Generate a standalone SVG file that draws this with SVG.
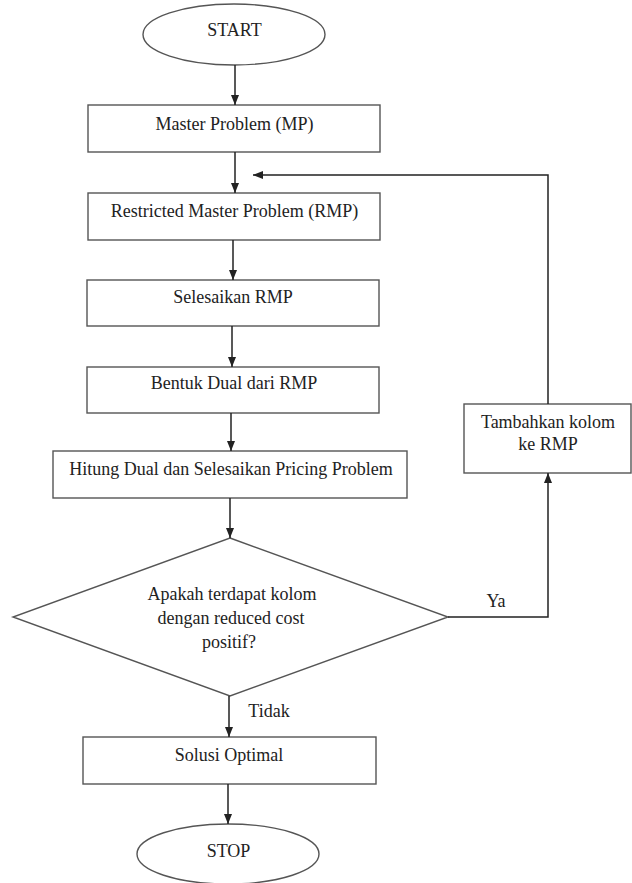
<svg xmlns="http://www.w3.org/2000/svg" width="632" height="883" viewBox="0 0 632 883">
<style>
.shape{fill:#fff;stroke:#555;stroke-width:1.4}
.conn{fill:none;stroke:#222;stroke-width:1.5}
text{font-family:"Liberation Serif","Times New Roman",serif;font-size:18px;fill:#222;text-anchor:middle}
</style>
<defs>
<marker id="ah" markerWidth="10" markerHeight="10" refX="10" refY="5" orient="auto" markerUnits="userSpaceOnUse">
<path d="M0,1 L10,5 L0,9 Z" fill="#222"/>
</marker>
</defs>
<rect width="632" height="883" fill="#fff"/>
<g id="start"><ellipse class="shape" cx="234" cy="34.5" rx="91" ry="30.5"/><text x="234.5" y="36">START</text></g>
<g id="mp"><rect class="shape" x="88" y="105" width="292" height="47"/><text x="234.5" y="130">Master Problem (MP)</text></g>
<g id="rmp"><rect class="shape" x="88" y="193" width="292" height="47"/><text x="234.5" y="217">Restricted Master Problem (RMP)</text></g>
<g id="selesaikan"><rect class="shape" x="87" y="280" width="292" height="46"/><text x="233" y="303">Selesaikan RMP</text></g>
<g id="bentuk"><rect class="shape" x="87" y="367" width="292" height="46"/><text x="234" y="389">Bentuk Dual dari RMP</text></g>
<g id="hitung"><rect class="shape" x="53" y="451" width="354" height="47"/><text x="231" y="475">Hitung Dual dan Selesaikan Pricing Problem</text></g>
<g id="tambahkan"><rect class="shape" x="464" y="404" width="167" height="69"/><text x="548" y="428">Tambahkan kolom</text><text x="548" y="450">ke RMP</text></g>
<g id="decision"><polygon class="shape" points="230,538 448,617 230,696 13,617"/><text x="232" y="600">Apakah terdapat kolom</text><text x="231" y="624">dengan reduced cost</text><text x="229" y="648">positif?</text></g>
<g id="solusi"><rect class="shape" x="83" y="737" width="293" height="47"/><text x="229" y="761">Solusi Optimal</text></g>
<g id="stop"><ellipse class="shape" cx="228" cy="854" rx="91" ry="30"/><text x="228.5" y="857">STOP</text></g>
<g id="connectors">
<line class="conn" x1="235" y1="65" x2="235" y2="105" marker-end="url(#ah)"/>
<line class="conn" x1="235" y1="152" x2="235" y2="193" marker-end="url(#ah)"/>
<line class="conn" x1="233" y1="240" x2="233" y2="280" marker-end="url(#ah)"/>
<line class="conn" x1="232" y1="326" x2="232" y2="367" marker-end="url(#ah)"/>
<line class="conn" x1="231" y1="413" x2="231" y2="451" marker-end="url(#ah)"/>
<line class="conn" x1="230" y1="498" x2="230" y2="538" marker-end="url(#ah)"/>
<line class="conn" x1="229" y1="696" x2="229" y2="737" marker-end="url(#ah)"/>
<line class="conn" x1="228" y1="784" x2="228" y2="824" marker-end="url(#ah)"/>
<polyline class="conn" points="448,617 548,617 548,473" marker-end="url(#ah)"/>
<polyline class="conn" points="548,404 548,175 253,175" marker-end="url(#ah)"/>
<text x="496" y="607">Ya</text>
<text x="269" y="717">Tidak</text>
</g>
</svg>
